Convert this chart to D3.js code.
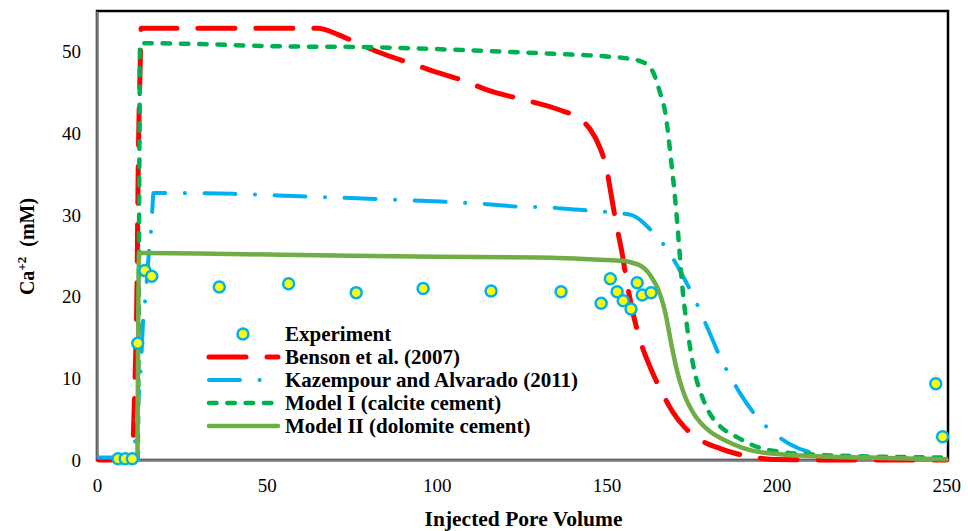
<!DOCTYPE html>
<html>
<head>
<meta charset="utf-8">
<script src="https://cdn.jsdelivr.net/npm/d3@7/dist/d3.min.js"></script>
<style>
  html, body { margin: 0; padding: 0; background: #fff; }
  svg { display: block; }
</style>
</head>
<body>
<svg id="chart" width="968" height="531"></svg>
<script>
// Measured Ca+2 effluent concentration
const expPV = [6.2, 8.3, 10.4, 12.0, 14.1, 16.1, 36.0, 56.4, 76.3, 96.0, 116.0, 136.6,
               148.4, 151.1, 153.1, 154.9, 157.2, 159.0, 160.5, 163.1, 246.9, 248.9];
const expCa = [0.15, 0.15, 0.15, 14.3, 23.2, 22.5, 21.2, 21.6, 20.5, 21.0, 20.7, 20.6,
               19.2, 22.2, 20.6, 19.5, 18.5, 21.7, 20.2, 20.5, 9.35, 2.85];

// Benson et al. (2007)
const bensonPV = [0.5, 10.3, 10.7, 11.2, 11.7, 12.2, 12.7, 13.0, 14.0, 40, 65, 71, 77, 82, 93, 98.5,
                  109, 115, 125, 136, 141.7, 145, 148, 150.1, 151.1, 153, 154.5, 156, 158, 160,
                  163, 166.4, 169.6, 173, 177.6, 183.5, 188, 193.8, 200, 225, 250];
const bensonCa = [0, 0, 3, 10, 19, 38, 48, 52.9, 52.9, 52.9, 52.9, 52.1, 51.0, 50.1, 48.5, 47.7,
                  46.3, 45.3, 44.2, 42.9, 41.9, 40.6, 38.3, 35.5, 33.1, 28.6, 25.5, 21.7, 17.6, 14.5,
                  11.2, 8.2, 5.8, 4.0, 2.45, 1.4, 0.8, 0.3, 0.05, 0, 0];

// Kazempour and Alvarado (2011)
const kazPV = [0.5, 10.5, 11.0, 12.0, 12.9, 13.6, 14.3, 15.2, 16.0, 16.4, 16.6, 20, 40, 60, 80, 101,
               110.8, 116.2, 126.5, 131.6, 136.8, 146.6, 152, 157.4, 159.9, 162, 164.8, 168.2,
               171.2, 175.6, 180, 184, 186.6, 189.4, 195.3, 199.3, 203.7, 210.1, 220, 235, 250];
const kazCa = [0.3, 0.3, 1.5, 6.5, 11.4, 17.2, 20.1, 25.0, 28.7, 31.5, 32.7, 32.7, 32.6, 32.3, 32.0, 31.65,
               31.45, 31.3, 31.0, 31.0, 30.8, 30.5, 30.3, 30.0, 29.4, 28.6, 27.4, 25.6,
               23.5, 20.0, 15.9, 12.1, 10.1, 8.1, 4.8, 3.3, 2.0, 0.93, 0.4, 0.2, 0.1];

// Model I (calcite cement)
const model1PV = [12.0, 12.3, 12.5, 12.7, 14, 58, 75, 115, 134.5, 151, 156, 160.9, 163.8, 165.8,
                  167.3, 169.2, 170.2, 171.2, 172.2, 173.7, 175.6, 178.5, 181.5, 183.5, 188.4,
                  194.3, 202.2, 212, 226.9, 250];
const model1Ca = [0, 20, 40, 51.05, 51.05, 50.65, 50.6, 50.1, 49.75, 49.4, 49.2, 48.7, 47.4, 44.9,
                  42.5, 35.9, 31.9, 27.0, 21.7, 16.3, 11.4, 7.35, 5.0, 4.1, 2.8,
                  1.6, 0.95, 0.64, 0.44, 0.3];

// Model II (dolomite cement)
const model2PV = [11.9, 12.4, 13.5, 60, 100, 130, 150, 155, 158, 160, 162, 163.5, 165.3, 167.3,
                  169.2, 170.7, 172.7, 175.6, 179.5, 185.4, 190, 197, 212, 232, 250];
const model2Ca = [0, 25.35, 25.35, 25.1, 24.9, 24.8, 24.5, 24.4, 24.1, 23.8, 23.1, 22.2, 20.8, 18.0,
                  13.9, 11.0, 8.2, 5.7, 3.8, 2.3, 1.5, 0.85, 0.45, 0.25, 0.1];

const xTicks = [0, 50, 100, 150, 200, 250];
const yTicks = [0, 10, 20, 30, 40, 50];

const seriesNames = ["Experiment", "Benson et al. (2007)", "Kazempour and Alvarado (2011)",
                     "Model I (calcite cement)", "Model II (dolomite cement)"];

// ---- layout ----
const W = 968, H = 531;
const margin = { top: 11, right: 20, bottom: 71, left: 97 };
const iw = W - margin.left - margin.right;
const ih = H - margin.top - margin.bottom;
const serif = "'Liberation Serif', 'Times New Roman', serif";

const svg = d3.select("#chart");
svg.append("rect").attr("width", W).attr("height", H).attr("fill", "#fff");

const g = svg.append("g").attr("transform", `translate(${margin.left},${margin.top})`);

const x = d3.scaleLinear().domain([0, 250.5]).range([0, iw]);
const y = d3.scaleLinear().domain([0, 55]).range([ih, 0]);

// plot-area border
g.append("rect").attr("x", 0).attr("y", 0).attr("width", iw).attr("height", ih)
  .attr("fill", "none").attr("stroke", "#000").attr("stroke-width", 2.5);

// axes
const xAxis = g.append("g").attr("transform", `translate(0,${ih})`)
  .call(d3.axisBottom(x).tickValues(xTicks).tickSize(0).tickPadding(19).tickFormat(d3.format("d")));
const yAxis = g.append("g")
  .call(d3.axisLeft(y).tickValues(yTicks).tickSize(0).tickPadding(16).tickFormat(d3.format("d")));
[xAxis, yAxis].forEach(a => {
  a.select(".domain").attr("stroke", "#7f7f7f").attr("stroke-width", 2.5);
  a.selectAll("text").attr("font-family", serif).attr("font-size", 19).attr("fill", "#000");
});

// axis titles
svg.append("text")
  .attr("x", margin.left + iw / 2 + 1).attr("y", 526)
  .attr("text-anchor", "middle").attr("font-family", serif).attr("font-weight", "bold")
  .attr("font-size", 21.5).text("Injected Pore Volume");

const yt = svg.append("text")
  .attr("transform", `translate(34,${margin.top + ih / 2 + 11}) rotate(-90)`)
  .attr("text-anchor", "middle").attr("font-family", serif).attr("font-weight", "bold")
  .attr("font-size", 20);
yt.append("tspan").text("Ca");
yt.append("tspan").attr("font-size", 13).attr("dy", -8).text("+2");
yt.append("tspan").attr("dy", 8).text("\u00a0 (mM)");

// series styles
const styles = [
  { pv: bensonPV, ca: bensonCa, color: "#FF0000", width: 5, dash: "37,21" },
  { pv: kazPV, ca: kazCa, color: "#00B0F0", width: 4, dash: "31,19.5,0.1,19.5" },
  { pv: model1PV, ca: model1Ca, color: "#00B050", width: 4.5, dash: "7.5,10.8" },
  { pv: model2PV, ca: model2Ca, color: "#70AD47", width: 4.5, dash: null }
];

const line = d3.line().x(d => x(d[0])).y(d => y(d[1])).curve(d3.curveMonotoneX);

styles.forEach(s => {
  g.append("path")
    .datum(s.pv.map((v, i) => [v, s.ca[i]]))
    .attr("d", line)
    .attr("fill", "none")
    .attr("stroke", s.color)
    .attr("stroke-width", s.width)
    .attr("stroke-linecap", "round")
    .attr("stroke-linejoin", "round")
    .attr("stroke-dasharray", s.dash);
});

// experimental points
g.selectAll("circle.exp")
  .data(expPV.map((v, i) => [v, expCa[i]]))
  .join("circle")
  .attr("class", "exp")
  .attr("cx", d => x(d[0])).attr("cy", d => y(d[1]))
  .attr("r", 5.5)
  .attr("fill", "#FFFF00").attr("stroke", "#00B0F0").attr("stroke-width", 2.5);

// legend
const legend = svg.append("g").attr("transform", "translate(207,334)");
const rowH = 23;
seriesNames.forEach((name, i) => {
  const row = legend.append("g").attr("transform", `translate(0,${i * rowH})`);
  if (i === 0) {
    row.append("circle").attr("cx", 36).attr("cy", 0).attr("r", 5.5)
      .attr("fill", "#FFFF00").attr("stroke", "#00B0F0").attr("stroke-width", 2.5);
  } else {
    const s = styles[i - 1];
    row.append("line").attr("x1", 2).attr("x2", 71).attr("y1", 0).attr("y2", 0)
      .attr("stroke", s.color).attr("stroke-width", s.width)
      .attr("stroke-linecap", "round").attr("stroke-dasharray", s.dash);
  }
  row.append("text").attr("x", 78).attr("y", 7)
    .attr("font-family", serif).attr("font-weight", "bold").attr("font-size", 21)
    .text(name);
});
</script>
</body>
</html>
